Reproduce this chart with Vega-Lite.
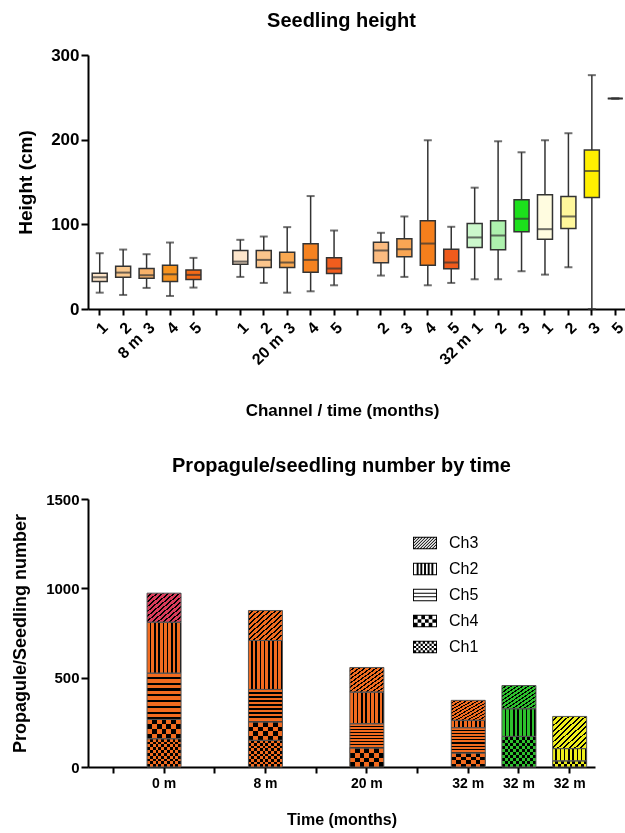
{
"$schema":"https://vega.github.io/schema/vega-lite/v6.json",
"background":"white",
"padding":{"left":10,"top":11,"right":0,"bottom":5},
"bounds":"flush",
"spacing":190,
"resolve":{"scale":{"fill":"independent","stroke":"independent","shape":"independent"},"legend":{"fill":"independent","stroke":"independent","shape":"independent"}},
"config":{"font":"Liberation Sans","view":{"stroke":null},
 "axis":{"domainColor":"#000","domainWidth":2,"tickColor":"#000","tickWidth":2,"tickSize":6,"labelColor":"#000","labelFontWeight":"bold","titleColor":"#000","titleFontWeight":"bold","grid":false},
 "title":{"fontWeight":"bold","color":"#000","fontSize":20}},
"vconcat":[
{
"title":{"text":"Seedling height","dx":-16,"offset":-1,"baseline":"alphabetic","frame":"group"},
"width":539,"height":254,
"data":{"values":[
{"key":"8m-1","time":"8 m","channel":"1","lo":19.3,"q1":32.4,"median":37.5,"q3":42.2,"hi":65.9},
{"key":"8m-2","time":"8 m","channel":"2","lo":16.6,"q1":37.5,"median":43,"q3":50.5,"hi":70.2},
{"key":"8m-3","time":"8 m","channel":"3","lo":24.9,"q1":36.3,"median":39.9,"q3":47.8,"hi":64.7},
{"key":"8m-4","time":"8 m","channel":"4","lo":15.4,"q1":32.4,"median":41,"q3":51.7,"hi":78.5},
{"key":"8m-5","time":"8 m","channel":"5","lo":25.3,"q1":34.7,"median":40.3,"q3":46.2,"hi":60.4},
{"key":"20m-1","time":"20 m","channel":"1","lo":37.9,"q1":52.9,"median":56,"q3":69.1,"hi":81.7},
{"key":"20m-2","time":"20 m","channel":"2","lo":30.8,"q1":48.9,"median":58,"q3":69.1,"hi":85.6},
{"key":"20m-3","time":"20 m","channel":"3","lo":19.3,"q1":48.9,"median":54.9,"q3":67.1,"hi":96.7},
{"key":"20m-4","time":"20 m","channel":"4","lo":20.9,"q1":43.4,"median":58,"q3":77,"hi":133.4},
{"key":"20m-5","time":"20 m","channel":"5","lo":28,"q1":41.8,"median":47.8,"q3":60.4,"hi":92.7},
{"key":"32mO-2","time":"32 m","channel":"2","lo":39.5,"q1":54.5,"median":69.1,"q3":78.9,"hi":90},
{"key":"32mO-3","time":"32 m","channel":"3","lo":37.9,"q1":61.6,"median":70.6,"q3":82.9,"hi":109.3},
{"key":"32mO-4","time":"32 m","channel":"4","lo":28,"q1":51.7,"median":77.3,"q3":104.2,"hi":199.3},
{"key":"32mO-5","time":"32 m","channel":"5","lo":30.8,"q1":47.4,"median":54.9,"q3":70.6,"hi":97.1},
{"key":"32mG-1","time":"32 m","channel":"1","lo":35.1,"q1":72.6,"median":84.5,"q3":101,"hi":143.3},
{"key":"32mG-2","time":"32 m","channel":"2","lo":35.1,"q1":69.9,"median":86.8,"q3":104.2,"hi":198.1},
{"key":"32mG-3","time":"32 m","channel":"3","lo":44.6,"q1":91.2,"median":106.6,"q3":129,"hi":185.1},
{"key":"32mY-1","time":"32 m","channel":"1","lo":40.6,"q1":82.5,"median":94.3,"q3":135,"hi":199.3},
{"key":"32mY-2","time":"32 m","channel":"2","lo":49.3,"q1":95.1,"median":109.3,"q3":133,"hi":207.6},
{"key":"32mY-3","time":"32 m","channel":"3","lo":0,"q1":131.8,"median":163,"q3":187.8,"hi":276.2},
{"key":"32mY-5","time":"32 m","channel":"5","lo":248.6,"q1":248.6,"median":248.6,"q3":248.6,"hi":248.6}
]},
"encoding":{"x":{"field":"key","type":"nominal",
 "scale":{"domain":["8m-1","8m-2","8m-3","8m-4","8m-5","gap1","20m-1","20m-2","20m-3","20m-4","20m-5","gap2","32mO-2","32mO-3","32mO-4","32mO-5","32mG-1","32mG-2","32mG-3","32mY-1","32mY-2","32mY-3","32mY-5"],"paddingInner":0,"paddingOuter":0},
 "axis":{"title":"Channel / time (months)","titleFontSize":17,"titleX":254,"titleY":106,"titleBaseline":"alphabetic","titleAlign":"center","labelAngle":-45,"labelAlign":"right","labelBaseline":"top","labelFontSize":16,"labelLineHeight":16,"labelOverlap":false,"labelPadding":4,
 "labelExpr":"datum.value=='8m-2' ? ['2','8 m'] : datum.value=='20m-2' ? ['2','20 m'] : datum.value=='32mO-5' ? ['5','32 m'] : (indexof(datum.value,'gap')==0 ? '' : slice(datum.value,-1))"}}},
"layer":[
 {"mark":{"type":"rule","color":"#333","strokeWidth":1.5},
  "encoding":{"y":{"field":"lo","type":"quantitative","title":"Height (cm)","scale":{"domain":[0,300],"nice":false},
   "axis":{"values":[0,100,200,300],"labelFontSize":17,"titleFontSize":19,"tickSize":7,"labelPadding":2,"titleX":-63,"titleBaseline":"middle"}},
   "y2":{"field":"hi"}}},
 {"mark":{"type":"bar","width":15,"stroke":"#333","strokeWidth":1.5},
  "encoding":{"y":{"field":"q1","type":"quantitative","title":"Height (cm)"},"y2":{"field":"q3"},
   "fill":{"field":"key","type":"nominal","legend":null,"scale":{
    "domain":["8m-1","8m-2","8m-3","8m-4","8m-5","20m-1","20m-2","20m-3","20m-4","20m-5","32mO-2","32mO-3","32mO-4","32mO-5","32mG-1","32mG-2","32mG-3","32mY-1","32mY-2","32mY-3","32mY-5"],
    "range":["#FCE3C6","#FBC98E","#F9B26A","#F7931E","#F36A17","#FCE5CB","#FBC58C","#F9A851","#F58220","#F15D1E","#FBBB80","#F9A654","#F57F1C","#EF5B1C","#CCF8CC","#AEF2AE","#1CE01C","#FFFCE0","#FFF79C","#FFEF00","#000000"]}}}},
 {"mark":{"type":"tick","color":"#333","thickness":2,"size":15},"encoding":{"y":{"field":"median","type":"quantitative","title":"Height (cm)"}}},
 {"mark":{"type":"tick","color":"#333","thickness":2,"size":8},"encoding":{"y":{"field":"lo","type":"quantitative","title":"Height (cm)"}}},
 {"mark":{"type":"tick","color":"#333","thickness":2,"size":8},"encoding":{"y":{"field":"hi","type":"quantitative","title":"Height (cm)"}}}
]
},
{
"title":{"text":"Propagule/seedling number by time","offset":0,"baseline":"alphabetic","frame":"group"},
"width":507,"height":268,
"data":{"values":[
{"bar":"0 m","channel":"Ch1","count":158},{"bar":"0 m","channel":"Ch4","count":108},{"bar":"0 m","channel":"Ch5","count":259},{"bar":"0 m","channel":"Ch2","count":285},{"bar":"0 m","channel":"Ch3","count":163},
{"bar":"8 m","channel":"Ch1","count":149},{"bar":"8 m","channel":"Ch4","count":103},{"bar":"8 m","channel":"Ch5","count":182},{"bar":"8 m","channel":"Ch2","count":274},{"bar":"8 m","channel":"Ch3","count":168},
{"bar":"20 m","channel":"Ch4","count":106},{"bar":"20 m","channel":"Ch5","count":136},{"bar":"20 m","channel":"Ch2","count":177},{"bar":"20 m","channel":"Ch3","count":138},
{"bar":"32 m O","channel":"Ch4","count":78},{"bar":"32 m O","channel":"Ch5","count":142},{"bar":"32 m O","channel":"Ch2","count":41},{"bar":"32 m O","channel":"Ch3","count":112},
{"bar":"32 m G","channel":"Ch1","count":171},{"bar":"32 m G","channel":"Ch2","count":155},{"bar":"32 m G","channel":"Ch3","count":130},
{"bar":"32 m Y","channel":"Ch1","count":34},{"bar":"32 m Y","channel":"Ch2","count":69},{"bar":"32 m Y","channel":"Ch3","count":180}
]},
"transform":[{"calculate":"indexof(['Ch1','Ch4','Ch5','Ch2','Ch3'], datum.channel)","as":"stackOrder"}],
"resolve":{"scale":{"fill":"independent"}},
"encoding":{
 "x":{"field":"bar","type":"nominal","scale":{"domain":["gap0","0 m","gap1","8 m","gap2","20 m","gap3","32 m O","32 m G","32 m Y"],"paddingInner":0,"paddingOuter":0},
  "axis":{"title":"Time (months)","titleFontSize":16,"titleY":57,"titleBaseline":"alphabetic","labelAngle":0,"labelFontSize":14,"labelPadding":3,
  "labelExpr":"indexof(datum.value,'gap')==0 ? '' : slice(datum.value,0,indexof(datum.value,'m')+1)"}},
 "y":{"field":"count","type":"quantitative","stack":"zero","title":"Propagule/Seedling number","scale":{"domain":[0,1500],"nice":false},
  "axis":{"values":[0,500,1000,1500],"format":"d","labelFontSize":15,"titleFontSize":18,"tickSize":7,"labelPadding":2,"titleX":-68,"titleBaseline":"middle"}},
 "order":{"field":"stackOrder","type":"quantitative"}
},
"layer":[
 {"mark":{"type":"point","filled":true,"opacity":1,"fill":"#000000","strokeWidth":0},
  "encoding":{
   "y":{"field":"count","type":"quantitative","stack":null,"title":"Propagule/Seedling number"},
   "shape":{"field":"channel","type":"nominal",
    "scale":{"domain":["Ch3","Ch2","Ch5","Ch4","Ch1"],"range":[
     "M-1,-0.52H1V0.52H-1Z M-0.92,-0.44V0.44H0.92V-0.44Z M-0.92,-0.31L-0.79,-0.44L-0.69,-0.44L-0.92,-0.21Z M-0.92,-0.06L-0.54,-0.44L-0.44,-0.44L-0.92,0.04Z M-0.92,0.19L-0.29,-0.44L-0.19,-0.44L-0.92,0.29Z M-0.92,0.44L-0.04,-0.44L0.06,-0.44L-0.82,0.44Z M-0.67,0.44L0.21,-0.44L0.31,-0.44L-0.57,0.44Z M-0.42,0.44L0.46,-0.44L0.56,-0.44L-0.32,0.44Z M-0.17,0.44L0.71,-0.44L0.81,-0.44L-0.07,0.44Z M0.08,0.44L0.92,-0.4L0.92,-0.3L0.18,0.44Z M0.33,0.44L0.92,-0.15L0.92,-0.05L0.43,0.44Z M0.58,0.44L0.92,0.1L0.92,0.2L0.68,0.44Z M0.83,0.44L0.92,0.35L0.92,0.44Z",
     "M-1,-0.52H1V0.52H-1Z M-0.92,-0.44V0.44H0.92V-0.44Z M-0.6933,-0.44h0.16v0.88h-0.16Z M-0.3867,-0.44h0.16v0.88h-0.16Z M-0.08,-0.44h0.16v0.88h-0.16Z M0.2267,-0.44h0.16v0.88h-0.16Z M0.5333,-0.44h0.16v0.88h-0.16Z",
     "M-1,-0.52H1V0.52H-1Z M-0.92,-0.44V0.44H0.92V-0.44Z M-0.92,-0.197h1.84v0.1h-1.84Z M-0.92,0.097h1.84v0.1h-1.84Z",
     "M-1,-0.52H1V0.52H-1Z M-0.92,-0.44V0.44H0.92V-0.44Z M-0.92,-0.44h0.3067v0.2933h-0.3067Z M-0.3067,-0.44h0.3067v0.2933h-0.3067Z M0.3067,-0.44h0.3067v0.2933h-0.3067Z M-0.6133,-0.1467h0.3067v0.2933h-0.3067Z M0,-0.1467h0.3067v0.2933h-0.3067Z M0.6133,-0.1467h0.3067v0.2933h-0.3067Z M-0.92,0.1467h0.3067v0.2933h-0.3067Z M-0.3067,0.1467h0.3067v0.2933h-0.3067Z M0.3067,0.1467h0.3067v0.2933h-0.3067Z",
     "M-1,-0.52H1V0.52H-1Z M-0.92,-0.44V0.44H0.92V-0.44Z M-0.92,-0.44h0.184v0.176h-0.184Z M-0.552,-0.44h0.184v0.176h-0.184Z M-0.184,-0.44h0.184v0.176h-0.184Z M0.184,-0.44h0.184v0.176h-0.184Z M0.552,-0.44h0.184v0.176h-0.184Z M-0.736,-0.264h0.184v0.176h-0.184Z M-0.368,-0.264h0.184v0.176h-0.184Z M0,-0.264h0.184v0.176h-0.184Z M0.368,-0.264h0.184v0.176h-0.184Z M0.736,-0.264h0.184v0.176h-0.184Z M-0.92,-0.088h0.184v0.176h-0.184Z M-0.552,-0.088h0.184v0.176h-0.184Z M-0.184,-0.088h0.184v0.176h-0.184Z M0.184,-0.088h0.184v0.176h-0.184Z M0.552,-0.088h0.184v0.176h-0.184Z M-0.736,0.088h0.184v0.176h-0.184Z M-0.368,0.088h0.184v0.176h-0.184Z M0,0.088h0.184v0.176h-0.184Z M0.368,0.088h0.184v0.176h-0.184Z M0.736,0.088h0.184v0.176h-0.184Z M-0.92,0.264h0.184v0.176h-0.184Z M-0.552,0.264h0.184v0.176h-0.184Z M-0.184,0.264h0.184v0.176h-0.184Z M0.184,0.264h0.184v0.176h-0.184Z M0.552,0.264h0.184v0.176h-0.184Z"]},
    "legend":{"title":null,"orient":"none","legendX":325,"legendY":32,"padding":0,"symbolSize":576,"symbolFillColor":"#000000","symbolStrokeWidth":0,"labelFontSize":16,"labelColor":"#000","labelOffset":12,"rowPadding":6,"symbolOpacity":1}}
  }},
 {"mark":{"type":"bar","width":34,"fill":"#ffffff"}},
 {"mark":{"type":"bar","width":34,"blend":"difference"},
  "encoding":{"fill":{"condition":[
   {"test":"datum.channel=='Ch3'","value":{"gradient":"linear","x1":0,"y1":0,"x2":1,"y2":1,"stops":[
    {"offset":0,"color":"rgba(255,255,255,0)"},{"offset":0.0542,"color":"rgba(255,255,255,0)"},{"offset":0.0542,"color":"#ffffff"},{"offset":0.0833,"color":"#ffffff"},
    {"offset":0.0833,"color":"rgba(255,255,255,0)"},{"offset":0.1375,"color":"rgba(255,255,255,0)"},{"offset":0.1375,"color":"#ffffff"},{"offset":0.1667,"color":"#ffffff"},
    {"offset":0.1667,"color":"rgba(255,255,255,0)"},{"offset":0.2208,"color":"rgba(255,255,255,0)"},{"offset":0.2208,"color":"#ffffff"},{"offset":0.25,"color":"#ffffff"},
    {"offset":0.25,"color":"rgba(255,255,255,0)"},{"offset":0.3042,"color":"rgba(255,255,255,0)"},{"offset":0.3042,"color":"#ffffff"},{"offset":0.3333,"color":"#ffffff"},
    {"offset":0.3333,"color":"rgba(255,255,255,0)"},{"offset":0.3875,"color":"rgba(255,255,255,0)"},{"offset":0.3875,"color":"#ffffff"},{"offset":0.4167,"color":"#ffffff"},
    {"offset":0.4167,"color":"rgba(255,255,255,0)"},{"offset":0.4708,"color":"rgba(255,255,255,0)"},{"offset":0.4708,"color":"#ffffff"},{"offset":0.5,"color":"#ffffff"},
    {"offset":0.5,"color":"rgba(255,255,255,0)"},{"offset":0.5542,"color":"rgba(255,255,255,0)"},{"offset":0.5542,"color":"#ffffff"},{"offset":0.5833,"color":"#ffffff"},
    {"offset":0.5833,"color":"rgba(255,255,255,0)"},{"offset":0.6375,"color":"rgba(255,255,255,0)"},{"offset":0.6375,"color":"#ffffff"},{"offset":0.6667,"color":"#ffffff"},
    {"offset":0.6667,"color":"rgba(255,255,255,0)"},{"offset":0.7208,"color":"rgba(255,255,255,0)"},{"offset":0.7208,"color":"#ffffff"},{"offset":0.75,"color":"#ffffff"},
    {"offset":0.75,"color":"rgba(255,255,255,0)"},{"offset":0.8042,"color":"rgba(255,255,255,0)"},{"offset":0.8042,"color":"#ffffff"},{"offset":0.8333,"color":"#ffffff"},
    {"offset":0.8333,"color":"rgba(255,255,255,0)"},{"offset":0.8875,"color":"rgba(255,255,255,0)"},{"offset":0.8875,"color":"#ffffff"},{"offset":0.9167,"color":"#ffffff"},
    {"offset":0.9167,"color":"rgba(255,255,255,0)"},{"offset":0.9708,"color":"rgba(255,255,255,0)"},{"offset":0.9708,"color":"#ffffff"},{"offset":1,"color":"#ffffff"}]}},
   {"test":"datum.channel=='Ch2'","value":{"gradient":"linear","x1":0,"y1":0,"x2":1,"y2":0,"stops":[
    {"offset":0,"color":"rgba(255,255,255,0)"},{"offset":0.08,"color":"rgba(255,255,255,0)"},{"offset":0.08,"color":"#ffffff"},{"offset":0.125,"color":"#ffffff"},
    {"offset":0.125,"color":"rgba(255,255,255,0)"},{"offset":0.205,"color":"rgba(255,255,255,0)"},{"offset":0.205,"color":"#ffffff"},{"offset":0.25,"color":"#ffffff"},
    {"offset":0.25,"color":"rgba(255,255,255,0)"},{"offset":0.33,"color":"rgba(255,255,255,0)"},{"offset":0.33,"color":"#ffffff"},{"offset":0.375,"color":"#ffffff"},
    {"offset":0.375,"color":"rgba(255,255,255,0)"},{"offset":0.455,"color":"rgba(255,255,255,0)"},{"offset":0.455,"color":"#ffffff"},{"offset":0.5,"color":"#ffffff"},
    {"offset":0.5,"color":"rgba(255,255,255,0)"},{"offset":0.58,"color":"rgba(255,255,255,0)"},{"offset":0.58,"color":"#ffffff"},{"offset":0.625,"color":"#ffffff"},
    {"offset":0.625,"color":"rgba(255,255,255,0)"},{"offset":0.705,"color":"rgba(255,255,255,0)"},{"offset":0.705,"color":"#ffffff"},{"offset":0.75,"color":"#ffffff"},
    {"offset":0.75,"color":"rgba(255,255,255,0)"},{"offset":0.83,"color":"rgba(255,255,255,0)"},{"offset":0.83,"color":"#ffffff"},{"offset":0.875,"color":"#ffffff"},
    {"offset":0.875,"color":"rgba(255,255,255,0)"},{"offset":0.955,"color":"rgba(255,255,255,0)"},{"offset":0.955,"color":"#ffffff"},{"offset":1,"color":"#ffffff"}]}},
   {"test":"datum.channel=='Ch5'","value":{"gradient":"linear","x1":0,"y1":0,"x2":0,"y2":1,"stops":[
    {"offset":0,"color":"rgba(255,255,255,0)"},{"offset":0.08,"color":"rgba(255,255,255,0)"},{"offset":0.08,"color":"#ffffff"},{"offset":0.125,"color":"#ffffff"},
    {"offset":0.125,"color":"rgba(255,255,255,0)"},{"offset":0.205,"color":"rgba(255,255,255,0)"},{"offset":0.205,"color":"#ffffff"},{"offset":0.25,"color":"#ffffff"},
    {"offset":0.25,"color":"rgba(255,255,255,0)"},{"offset":0.33,"color":"rgba(255,255,255,0)"},{"offset":0.33,"color":"#ffffff"},{"offset":0.375,"color":"#ffffff"},
    {"offset":0.375,"color":"rgba(255,255,255,0)"},{"offset":0.455,"color":"rgba(255,255,255,0)"},{"offset":0.455,"color":"#ffffff"},{"offset":0.5,"color":"#ffffff"},
    {"offset":0.5,"color":"rgba(255,255,255,0)"},{"offset":0.58,"color":"rgba(255,255,255,0)"},{"offset":0.58,"color":"#ffffff"},{"offset":0.625,"color":"#ffffff"},
    {"offset":0.625,"color":"rgba(255,255,255,0)"},{"offset":0.705,"color":"rgba(255,255,255,0)"},{"offset":0.705,"color":"#ffffff"},{"offset":0.75,"color":"#ffffff"},
    {"offset":0.75,"color":"rgba(255,255,255,0)"},{"offset":0.83,"color":"rgba(255,255,255,0)"},{"offset":0.83,"color":"#ffffff"},{"offset":0.875,"color":"#ffffff"},
    {"offset":0.875,"color":"rgba(255,255,255,0)"},{"offset":0.955,"color":"rgba(255,255,255,0)"},{"offset":0.955,"color":"#ffffff"},{"offset":1,"color":"#ffffff"}]}},
   {"test":"datum.channel=='Ch4'","value":{"gradient":"linear","x1":0,"y1":0,"x2":0,"y2":1,"stops":[
    {"offset":0,"color":"#ffffff"},{"offset":0.25,"color":"#ffffff"},{"offset":0.25,"color":"rgba(255,255,255,0)"},{"offset":0.5,"color":"rgba(255,255,255,0)"},
    {"offset":0.5,"color":"#ffffff"},{"offset":0.75,"color":"#ffffff"},{"offset":0.75,"color":"rgba(255,255,255,0)"},{"offset":1,"color":"rgba(255,255,255,0)"}]}},
   {"test":"datum.channel=='Ch1'","value":{"gradient":"linear","x1":0,"y1":0,"x2":0,"y2":1,"stops":[
    {"offset":0,"color":"#ffffff"},{"offset":0.1,"color":"#ffffff"},{"offset":0.1,"color":"rgba(255,255,255,0)"},{"offset":0.2,"color":"rgba(255,255,255,0)"},
    {"offset":0.2,"color":"#ffffff"},{"offset":0.3,"color":"#ffffff"},{"offset":0.3,"color":"rgba(255,255,255,0)"},{"offset":0.4,"color":"rgba(255,255,255,0)"},
    {"offset":0.4,"color":"#ffffff"},{"offset":0.5,"color":"#ffffff"},{"offset":0.5,"color":"rgba(255,255,255,0)"},{"offset":0.6,"color":"rgba(255,255,255,0)"},
    {"offset":0.6,"color":"#ffffff"},{"offset":0.7,"color":"#ffffff"},{"offset":0.7,"color":"rgba(255,255,255,0)"},{"offset":0.8,"color":"rgba(255,255,255,0)"},
    {"offset":0.8,"color":"#ffffff"},{"offset":0.9,"color":"#ffffff"},{"offset":0.9,"color":"rgba(255,255,255,0)"},{"offset":1,"color":"rgba(255,255,255,0)"}]}}
  ],"value":"rgba(255,255,255,0)"}}},
 {"mark":{"type":"bar","width":34,"blend":"difference"},
  "encoding":{"fill":{"condition":[
   {"test":"datum.channel=='Ch4'","value":{"gradient":"linear","x1":0,"y1":0,"x2":1,"y2":0,"stops":[
    {"offset":0,"color":"#ffffff"},{"offset":0.1429,"color":"#ffffff"},{"offset":0.1429,"color":"rgba(255,255,255,0)"},{"offset":0.2857,"color":"rgba(255,255,255,0)"},
    {"offset":0.2857,"color":"#ffffff"},{"offset":0.4286,"color":"#ffffff"},{"offset":0.4286,"color":"rgba(255,255,255,0)"},{"offset":0.5714,"color":"rgba(255,255,255,0)"},
    {"offset":0.5714,"color":"#ffffff"},{"offset":0.7143,"color":"#ffffff"},{"offset":0.7143,"color":"rgba(255,255,255,0)"},{"offset":0.8571,"color":"rgba(255,255,255,0)"},
    {"offset":0.8571,"color":"#ffffff"},{"offset":1,"color":"#ffffff"}]}},
   {"test":"datum.channel=='Ch1'","value":{"gradient":"linear","x1":0,"y1":0,"x2":1,"y2":0,"stops":[
    {"offset":0,"color":"#ffffff"},{"offset":0.0833,"color":"#ffffff"},{"offset":0.0833,"color":"rgba(255,255,255,0)"},{"offset":0.1667,"color":"rgba(255,255,255,0)"},
    {"offset":0.1667,"color":"#ffffff"},{"offset":0.25,"color":"#ffffff"},{"offset":0.25,"color":"rgba(255,255,255,0)"},{"offset":0.3333,"color":"rgba(255,255,255,0)"},
    {"offset":0.3333,"color":"#ffffff"},{"offset":0.4167,"color":"#ffffff"},{"offset":0.4167,"color":"rgba(255,255,255,0)"},{"offset":0.5,"color":"rgba(255,255,255,0)"},
    {"offset":0.5,"color":"#ffffff"},{"offset":0.5833,"color":"#ffffff"},{"offset":0.5833,"color":"rgba(255,255,255,0)"},{"offset":0.6667,"color":"rgba(255,255,255,0)"},
    {"offset":0.6667,"color":"#ffffff"},{"offset":0.75,"color":"#ffffff"},{"offset":0.75,"color":"rgba(255,255,255,0)"},{"offset":0.8333,"color":"rgba(255,255,255,0)"},
    {"offset":0.8333,"color":"#ffffff"},{"offset":0.9167,"color":"#ffffff"},{"offset":0.9167,"color":"rgba(255,255,255,0)"},{"offset":1,"color":"rgba(255,255,255,0)"}]}}
  ],"value":"rgba(255,255,255,0)"}}},
 {"mark":{"type":"bar","width":34,"blend":"multiply"},
  "encoding":{"fill":{"condition":{"test":"datum.bar=='0 m' && datum.channel=='Ch3'","value":"#DA3B5B"},
   "field":"bar","type":"nominal","legend":null,
   "scale":{"domain":["0 m","8 m","20 m","32 m O","32 m G","32 m Y"],"range":["#F26B1F","#F26B1F","#F26B1F","#F26B1F","#2DC12D","#EEEE1A"]}}}},
 {"mark":{"type":"bar","width":34,"fill":"transparent","stroke":"#555555","strokeWidth":1}}
]
}
]
}
